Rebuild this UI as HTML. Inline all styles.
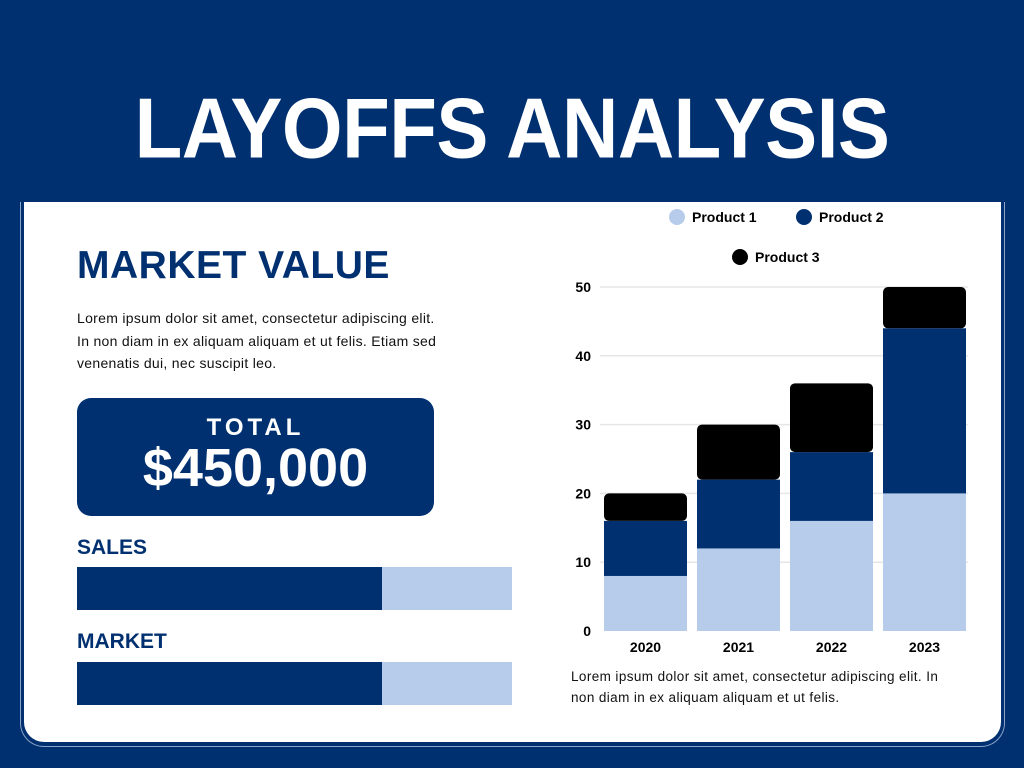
<!DOCTYPE html>
<html><head><meta charset="utf-8"><style>
*{margin:0;padding:0;box-sizing:border-box}
body{width:1024px;height:768px;background:#003070;position:relative;overflow:hidden;font-family:"Liberation Sans",sans-serif}
.abs{position:absolute}
h1{position:absolute;left:0;width:1024px;top:78px;text-align:center;color:#fff;font-size:78px;font-weight:bold;letter-spacing:-0.5px;line-height:100px;transform:scaleY(1.1)}
</style></head><body>
<h1>LAYOFFS ANALYSIS</h1>
<div class="abs" style="left:20px;top:202px;width:985px;height:545px;border:1px solid #8aa3c8;border-radius:0 0 24px 24px;border-top:none"></div>
<div class="abs" style="left:24px;top:202px;width:977px;height:540px;background:#fff;border-radius:0 0 20px 20px"></div>
<div class="abs" style="left:77px;top:244px;font-size:39px;font-weight:bold;color:#003070;letter-spacing:0.5px">MARKET VALUE</div>
<div class="abs" style="left:77px;top:307px;width:440px;font-size:14px;line-height:22.5px;color:#111;letter-spacing:0.3px">Lorem ipsum dolor sit amet, consectetur adipiscing elit.<br>In non diam in ex aliquam aliquam et ut felis. Etiam sed<br>venenatis dui, nec suscipit leo.</div>
<div class="abs" style="left:77px;top:398px;width:357px;height:118px;background:#003070;border-radius:14px;color:#fff;text-align:center">
<div style="margin-top:16px;font-size:24px;font-weight:bold;letter-spacing:4px">TOTAL</div>
<div style="font-size:54px;font-weight:bold;line-height:52px">$450,000</div></div>
<div class="abs" style="left:77px;top:536px;font-size:21px;font-weight:bold;color:#003070">SALES</div>
<div class="abs" style="left:77px;top:567px;width:435px;height:43px;background:#b7cceb"></div>
<div class="abs" style="left:77px;top:567px;width:305px;height:43px;background:#003070"></div>
<div class="abs" style="left:77px;top:630px;font-size:21px;font-weight:bold;color:#003070">MARKET</div>
<div class="abs" style="left:77px;top:662px;width:435px;height:43px;background:#b7cceb"></div>
<div class="abs" style="left:77px;top:662px;width:305px;height:43px;background:#003070"></div>
<div class="abs" style="left:571px;top:666px;width:420px;font-size:13.5px;line-height:21px;color:#111;letter-spacing:0.4px">Lorem ipsum dolor sit amet, consectetur adipiscing elit. In<br>non diam in ex aliquam aliquam et ut felis.</div>
<svg class="abs" id="chart" style="left:0;top:0" width="1024" height="768"></svg>
<script>
const categories=["2020","2021","2022","2023"];
const product1=[8,12,16,20];
const product2=[8,10,10,24];
const product3=[4,8,10,6];
const ticks=[0,10,20,30,40,50];
const seriesNames=["Product 1","Product 2","Product 3"];
const colors=["#b7cceb","#003070","#000000"];
const svg=document.getElementById('chart');
const NS="http://www.w3.org/2000/svg";
const y0=631,yMax=50,pxPer=(631-287)/50;
const y=v=>y0-v*pxPer;
const x=i=>604+i*93;
const bw=83;
function mk(t,a){const e=document.createElementNS(NS,t);for(const k in a)e.setAttribute(k,a[k]);svg.appendChild(e);return e;}
ticks.forEach(t=>{
 if(t>0){const l=mk('line',{x1:600,x2:968,y1:y(t),y2:y(t),stroke:'#e6e6e6','stroke-width':1.5});
 
 }
 const tx=mk('text',{x:591,y:y(t)+5,'text-anchor':'end','font-size':14,'font-weight':'bold','font-family':'Liberation Sans, sans-serif'});
 tx.textContent=t;
 
 
});
const series=[product1,product2,product3];
categories.forEach((c,i)=>{
 let base=0;
 series.forEach((s,j)=>{
  const top=base+s[i];
  const r=mk('rect',{x:x(i),y:y(top),width:bw,height:y(base)-y(top),fill:colors[j],rx:(j==2?5:0)});
  
  
  base=top;
 });
 const tx=mk('text',{x:x(i)+bw/2,y:652,'text-anchor':'middle','font-size':14,'font-weight':'bold','font-family':'Liberation Sans, sans-serif'});
 tx.textContent=c;
 
 
});
const legendPos=[[677,217],[804,217],[740,257]];
seriesNames.forEach((n,j)=>{
 const cc=mk('circle',{cx:legendPos[j][0],cy:legendPos[j][1],r:8,fill:colors[j]});
 
 
 const t=mk('text',{x:legendPos[j][0]+15,y:legendPos[j][1]+5,'font-size':14,'font-weight':'bold','font-family':'Liberation Sans, sans-serif'});
 t.textContent=n;
 
 
});
</script>
</body></html>
